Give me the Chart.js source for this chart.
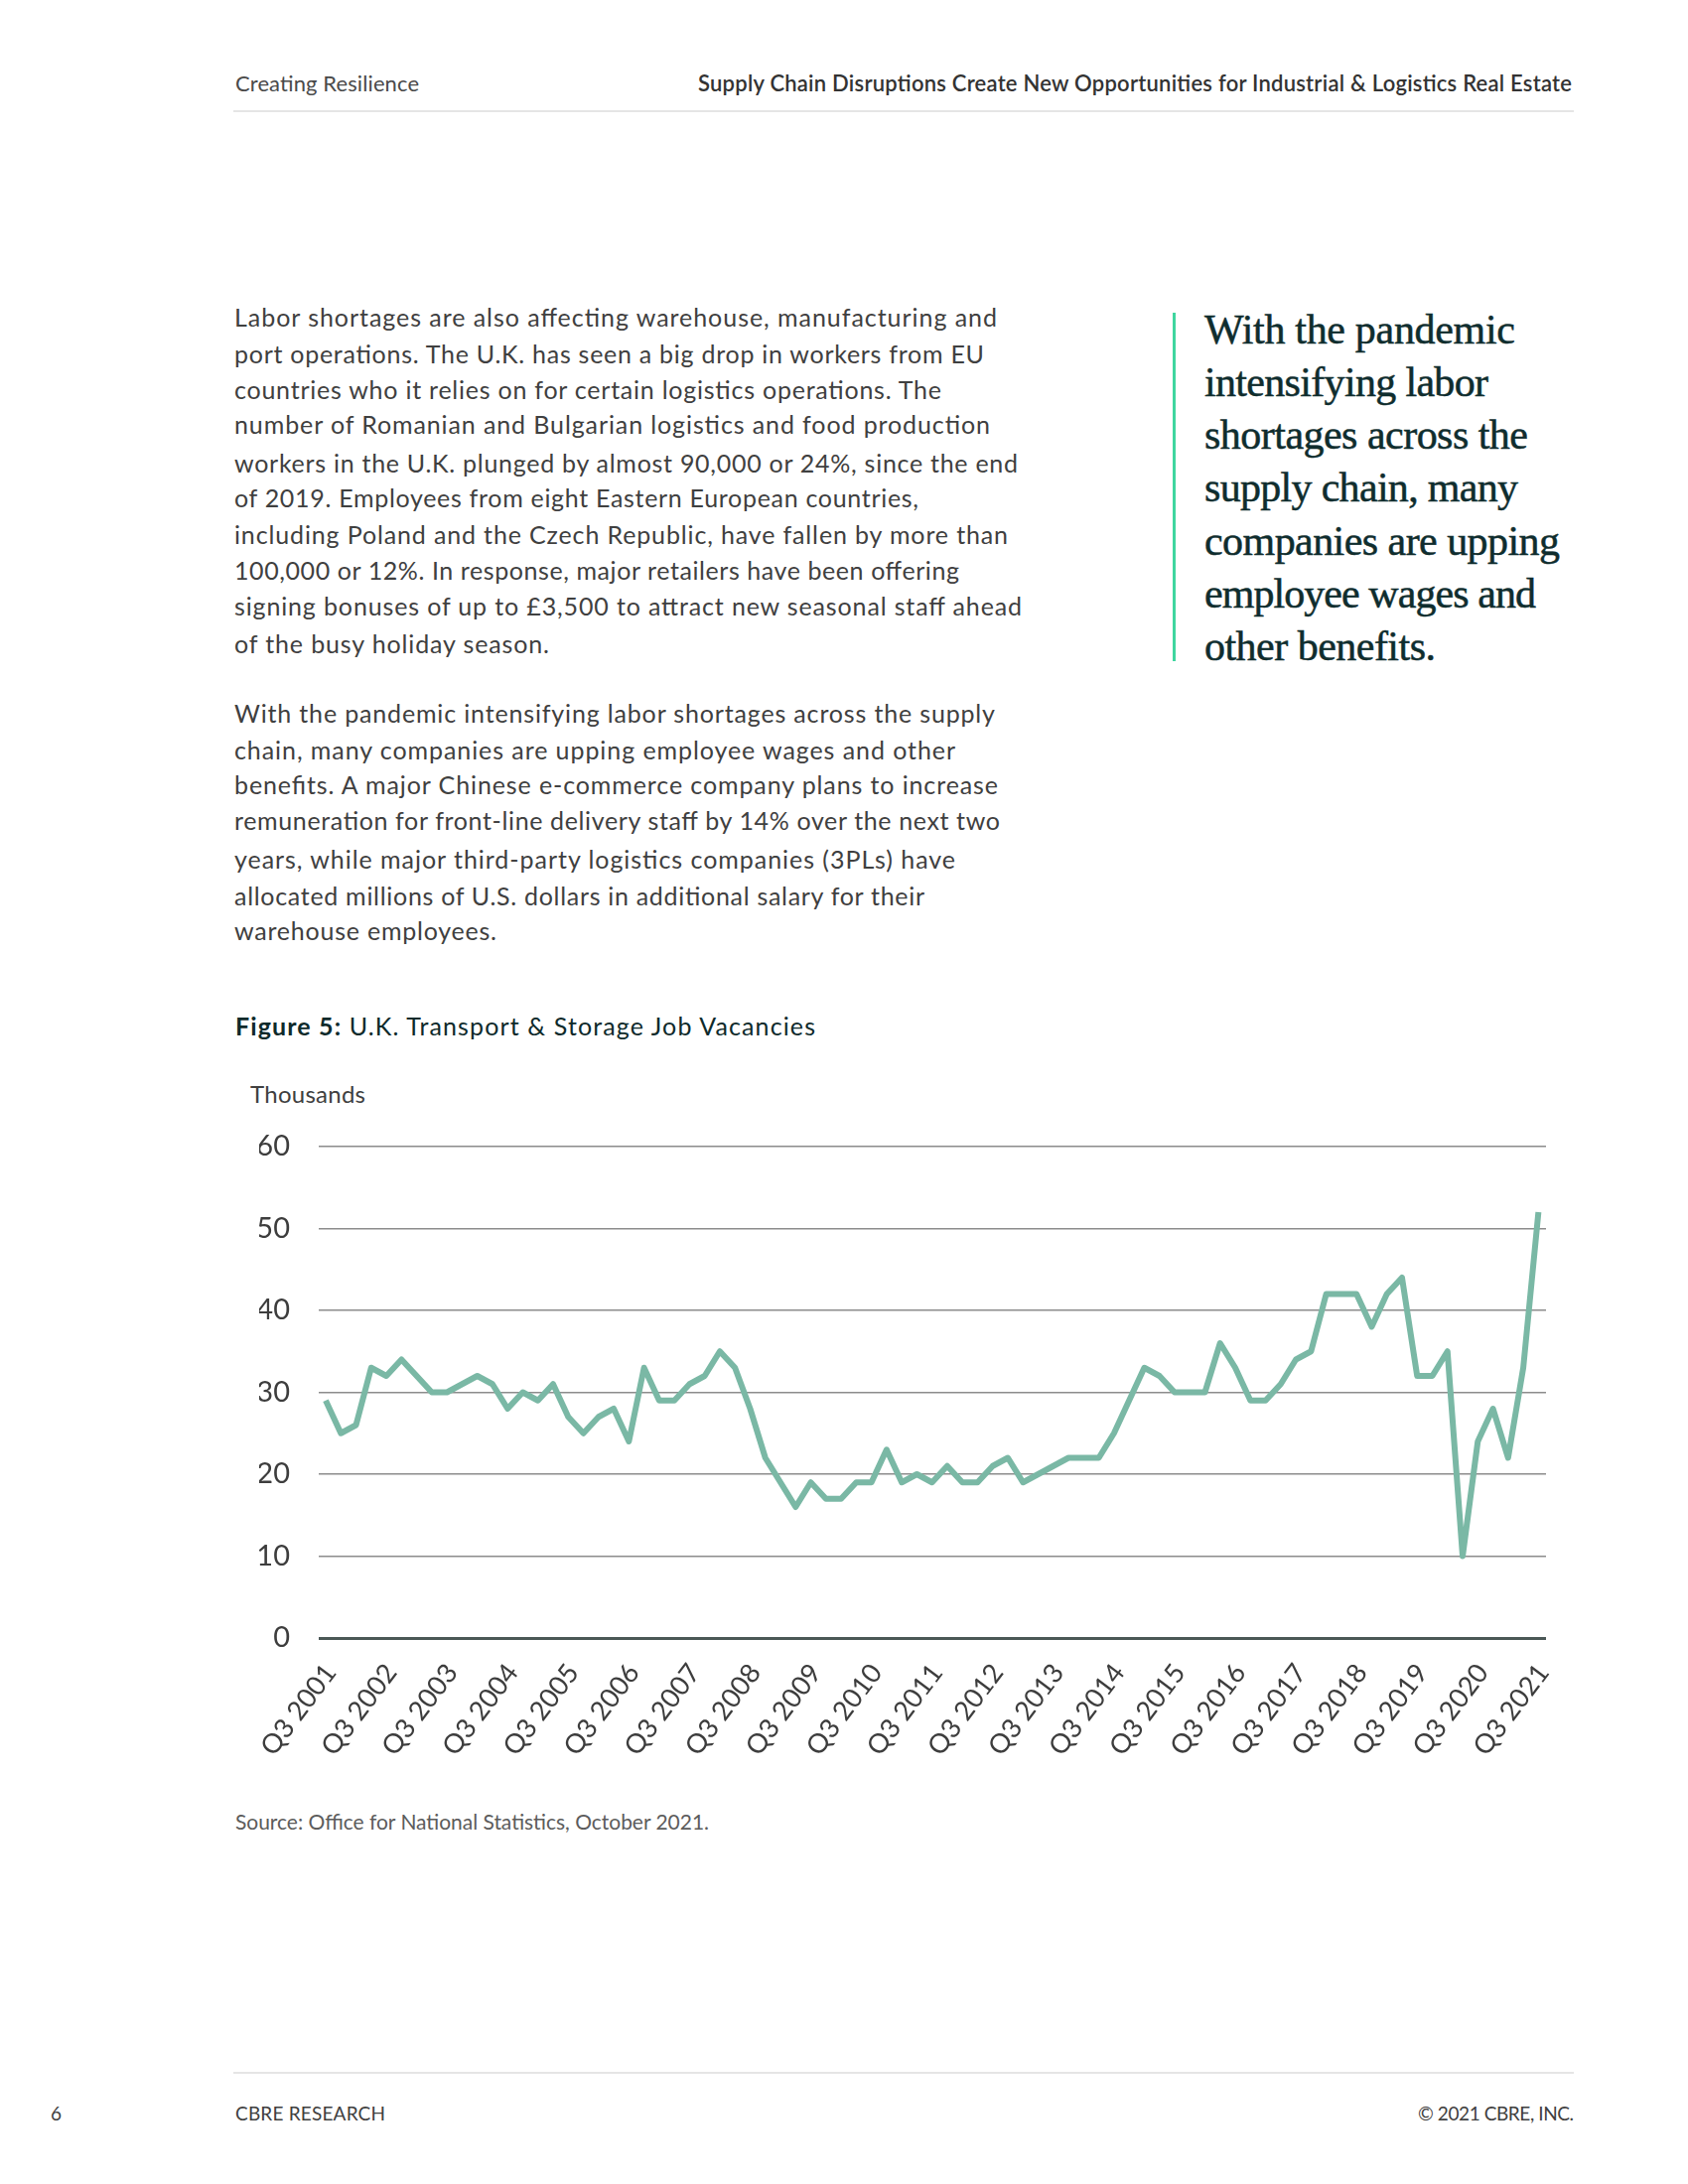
<!DOCTYPE html>
<html>
<head>
<meta charset="utf-8">
<script src="https://cdn.jsdelivr.net/npm/chart.js@4.4.1/dist/chart.umd.min.js"></script>
<style>
  html, body { margin: 0; padding: 0; background: #ffffff; }
  #page { position: relative; width: 1700px; height: 2200px; background: #ffffff; overflow: hidden; }
  #txt { position: absolute; left: 0; top: 0; }
  #chartWrap { position: absolute; left: 0; top: 1130px; width: 1700px; height: 650px; }
  .sans { font-family: 'Lato', 'Roboto', sans-serif; }
  .serif { font-family: 'Liberation Serif', 'DejaVu Serif', serif; }
</style>
</head>
<body>
<div id="page">
<svg id="txt" width="1700" height="2200" xmlns="http://www.w3.org/2000/svg">
  <!-- header -->
  <text class="sans" x="237" y="92" font-size="22" fill="#4a4a4a" textLength="185" lengthAdjust="spacing">Creating Resilience</text>
  <text class="sans" x="1583" y="92" font-size="22" font-weight="600" fill="#333333" text-anchor="end" textLength="880" lengthAdjust="spacing">Supply Chain Disruptions Create New Opportunities for Industrial &amp; Logistics Real Estate</text>
  <line x1="235" y1="112" x2="1585" y2="112" stroke="#dddddd" stroke-width="1.5"/>

  <!-- body paragraphs -->
  <g class="sans" font-size="25" fill="#3f4040">
    <text x="236" y="329" textLength="768" lengthAdjust="spacing">Labor shortages are also affecting warehouse, manufacturing and</text>
    <text x="236" y="366" textLength="755" lengthAdjust="spacing">port operations. The U.K. has seen a big drop in workers from EU</text>
    <text x="236" y="402" textLength="712" lengthAdjust="spacing">countries who it relies on for certain logistics operations. The</text>
    <text x="236" y="437" textLength="761" lengthAdjust="spacing">number of Romanian and Bulgarian logistics and food production</text>
    <text x="236" y="476" textLength="789" lengthAdjust="spacing">workers in the U.K. plunged by almost 90,000 or 24%, since the end</text>
    <text x="236" y="511" textLength="689" lengthAdjust="spacing">of 2019. Employees from eight Eastern European countries,</text>
    <text x="236" y="548" textLength="779" lengthAdjust="spacing">including Poland and the Czech Republic, have fallen by more than</text>
    <text x="236" y="584" textLength="730" lengthAdjust="spacing">100,000 or 12%. In response, major retailers have been offering</text>
    <text x="236" y="620" textLength="793" lengthAdjust="spacing">signing bonuses of up to £3,500 to attract new seasonal staff ahead</text>
    <text x="236" y="658" textLength="317" lengthAdjust="spacing">of the busy holiday season.</text>

    <text x="236" y="728" textLength="766" lengthAdjust="spacing">With the pandemic intensifying labor shortages across the supply</text>
    <text x="236" y="765" textLength="726" lengthAdjust="spacing">chain, many companies are upping employee wages and other</text>
    <text x="236" y="800" textLength="769" lengthAdjust="spacing">benefits. A major Chinese e-commerce company plans to increase</text>
    <text x="236" y="836" textLength="771" lengthAdjust="spacing">remuneration for front-line delivery staff by 14% over the next two</text>
    <text x="236" y="875" textLength="726" lengthAdjust="spacing">years, while major third-party logistics companies (3PLs) have</text>
    <text x="236" y="912" textLength="695" lengthAdjust="spacing">allocated millions of U.S. dollars in additional salary for their</text>
    <text x="236" y="947" textLength="264" lengthAdjust="spacing">warehouse employees.</text>
  </g>

  <!-- pull quote -->
  <rect x="1181" y="315" width="3" height="351" fill="#3fd69f"/>
  <g class="serif" font-size="42" fill="#0f2d2e" stroke="#0f2d2e" stroke-width="0.5">
    <text x="1213" y="346" textLength="313" lengthAdjust="spacing">With the pandemic</text>
    <text x="1213" y="399" textLength="286" lengthAdjust="spacing">intensifying labor</text>
    <text x="1213" y="452" textLength="326" lengthAdjust="spacing">shortages across the</text>
    <text x="1213" y="505" textLength="316" lengthAdjust="spacing">supply chain, many</text>
    <text x="1213" y="559" textLength="358" lengthAdjust="spacing">companies are upping</text>
    <text x="1213" y="612" textLength="334" lengthAdjust="spacing">employee wages and</text>
    <text x="1213" y="665" textLength="233" lengthAdjust="spacing">other benefits.</text>
  </g>

  <!-- figure title -->
  <text class="sans" x="237" y="1043" font-size="25" fill="#0e2a2b" textLength="584" lengthAdjust="spacing"><tspan font-weight="700">Figure 5:</tspan> U.K. Transport &amp; Storage Job Vacancies</text>
  <text class="sans" x="252" y="1111" font-size="24" fill="#404040" textLength="116" lengthAdjust="spacing">Thousands</text>

  <!-- source -->
  <text class="sans" x="237" y="1843" font-size="21" fill="#5c5c5c" textLength="477" lengthAdjust="spacing">Source: Office for National Statistics, October 2021.</text>

  <!-- footer -->
  <line x1="235" y1="2088" x2="1585" y2="2088" stroke="#dddddd" stroke-width="1.5"/>
  <text class="sans" x="51" y="2136" font-size="19" fill="#3f4040">6</text>
  <text class="sans" x="237" y="2136" font-size="19" fill="#3f4040" textLength="151" lengthAdjust="spacing">CBRE RESEARCH</text>
  <text class="sans" x="1585" y="2136" font-size="19" fill="#3f4040" text-anchor="end" textLength="157" lengthAdjust="spacing">© 2021 CBRE, INC.</text>
</svg>
<div id="chartWrap"><canvas id="c" width="1700" height="650"></canvas></div>
</div>

<script>
// Quarterly categories, Q3 2001 .. Q3 2021
const categories = [
  "Q3 2001","Q4 2001","Q1 2002","Q2 2002","Q3 2002","Q4 2002","Q1 2003","Q2 2003",
  "Q3 2003","Q4 2003","Q1 2004","Q2 2004","Q3 2004","Q4 2004","Q1 2005","Q2 2005",
  "Q3 2005","Q4 2005","Q1 2006","Q2 2006","Q3 2006","Q4 2006","Q1 2007","Q2 2007",
  "Q3 2007","Q4 2007","Q1 2008","Q2 2008","Q3 2008","Q4 2008","Q1 2009","Q2 2009",
  "Q3 2009","Q4 2009","Q1 2010","Q2 2010","Q3 2010","Q4 2010","Q1 2011","Q2 2011",
  "Q3 2011","Q4 2011","Q1 2012","Q2 2012","Q3 2012","Q4 2012","Q1 2013","Q2 2013",
  "Q3 2013","Q4 2013","Q1 2014","Q2 2014","Q3 2014","Q4 2014","Q1 2015","Q2 2015",
  "Q3 2015","Q4 2015","Q1 2016","Q2 2016","Q3 2016","Q4 2016","Q1 2017","Q2 2017",
  "Q3 2017","Q4 2017","Q1 2018","Q2 2018","Q3 2018","Q4 2018","Q1 2019","Q2 2019",
  "Q3 2019","Q4 2019","Q1 2020","Q2 2020","Q3 2020","Q4 2020","Q1 2021","Q2 2021",
  "Q3 2021"
];

// Job vacancies, thousands
const vacancies = [
  29, 25, 26, 33, 32, 34, 32, 30,
  30, 31, 32, 31, 28, 30, 29, 31,
  27, 25, 27, 28, 24, 33, 29, 29,
  31, 32, 35, 33, 28, 22, 19, 16,
  19, 17, 17, 19, 19, 23, 19, 20,
  19, 21, 19, 19, 21, 22, 19, 20,
  21, 22, 22, 22, 25, 29, 33, 32,
  30, 30, 30, 36, 33, 29, 29, 31,
  34, 35, 42, 42, 42, 38, 42, 44,
  32, 32, 35, 10, 24, 28, 22, 33,
  52
];

// Y-axis ticks
const yTicks = [0, 10, 20, 30, 40, 50, 60];

const points = vacancies.map((v, i) => ({ x: i, y: v }));

new Chart(document.getElementById('c'), {
  type: 'line',
  data: {
    datasets: [{
      data: points,
      borderColor: '#7ab8a5',
      borderWidth: 6,
      pointRadius: 0,
      pointHoverRadius: 0,
      tension: 0,
      fill: false,
      borderJoinStyle: 'round',
      borderCapStyle: 'butt'
    }]
  },
  options: {
    responsive: false,
    maintainAspectRatio: false,
    animation: false,
    devicePixelRatio: 1,
    layout: { padding: { left: 261, right: 143, top: 25, bottom: 0 } },
    plugins: { legend: { display: false }, tooltip: { enabled: false } },
    scales: {
      x: {
        type: 'linear',
        min: -0.459,
        max: 80.5,
        grid: { display: false },
        border: { display: false },
        afterFit: (s) => { s.height = 130; },
        ticks: {
          stepSize: 4,
          includeBounds: false,
          autoSkip: false,
          maxRotation: 53,
          minRotation: 53,
          padding: 12,
          labelOffset: 5,
          color: '#3d3d3d',
          font: { family: 'Lato, Roboto, sans-serif', size: 27 },
          callback: (v) => (Number.isInteger(v) && categories[v]) ? categories[v] : ''
        }
      },
      y: {
        min: yTicks[0],
        max: yTicks[yTicks.length - 1],
        afterFit: (s) => { s.width = 60; },
        afterBuildTicks: (s) => { s.ticks = yTicks.map(v => ({ value: v })); },
        border: { display: false },
        grid: {
          drawTicks: true,
          tickLength: 29,
          tickColor: 'rgba(0,0,0,0)',
          color: (ctx) => ctx.tick && ctx.tick.value === 0 ? '#4b5856' : '#8c8c8c',
          lineWidth: (ctx) => ctx.tick && ctx.tick.value === 0 ? 3 : 1.5
        },
        ticks: {
          padding: 0,
          color: '#3d3d3d',
          font: { family: 'Lato, Roboto, sans-serif', size: 29 }
        }
      }
    }
  }
});
</script>
</body>
</html>
